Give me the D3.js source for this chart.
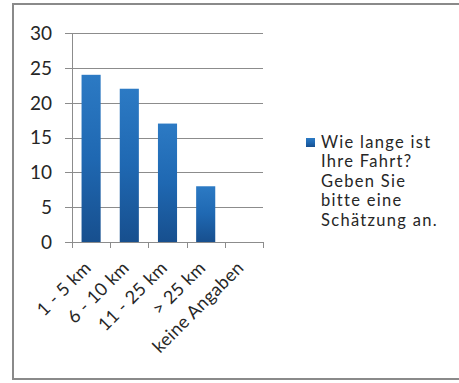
<!DOCTYPE html>
<html><head><meta charset="utf-8">
<script src="https://cdn.jsdelivr.net/npm/d3@7"></script>
<style>body{margin:0;background:#fff;}svg{display:block;}</style>
</head><body>
<svg id="c" width="459" height="383"></svg>
<script>
const categories = ["1 - 5 km", "6 - 10 km", "11 - 25 km", "> 25 km", "keine Angaben"];
const values = [24, 22, 17, 8, 0];
const yTicks = [0, 5, 10, 15, 20, 25, 30];
const legendLines = ["Wie lange ist", "Ihre Fahrt?", "Geben Sie", "bitte eine", "Schätzung an."];

(function () {
const svg = d3.select("#c");
const font = "Lato, 'Open Sans', sans-serif";
const grid = "#8c8c8c";
const txt = "#262626";

svg.append("rect").attr("x", 13).attr("y", 4).attr("width", 470).attr("height", 375)
  .attr("fill", "none").attr("stroke", "#8a8a8a").attr("stroke-width", 2);

const defs = svg.append("defs");
const g = defs.append("linearGradient").attr("id", "bg").attr("x1", 0).attr("y1", 0).attr("x2", 0).attr("y2", 1);
g.append("stop").attr("offset", "0%").attr("stop-color", "#2c7ac4");
g.append("stop").attr("offset", "50%").attr("stop-color", "#1f68b2");
g.append("stop").attr("offset", "100%").attr("stop-color", "#174f8e");

const mL = 72, mR = 263, mT = 33, mB = 242;
const x = d3.scaleBand().domain(categories).range([mL, mR]).paddingInner(0).paddingOuter(0);
const y = d3.scaleLinear().domain([0, 30]).range([mB, mT]);

svg.append("g").selectAll("line").data(yTicks).join("line")
  .attr("x1", 65).attr("x2", mR).attr("y1", d => Math.round(y(d)) + 0.5).attr("y2", d => Math.round(y(d)) + 0.5)
  .attr("stroke", grid).attr("stroke-width", 1);

svg.append("line").attr("x1", mL + 0.5).attr("x2", mL + 0.5).attr("y1", mT).attr("y2", mB)
  .attr("stroke", grid);

const tickX = categories.map(c => x(c)).concat([mR]);
svg.append("g").selectAll("line").data(tickX).join("line")
  .attr("x1", d => Math.round(d) + 0.5).attr("x2", d => Math.round(d) + 0.5)
  .attr("y1", mB).attr("y2", mB + 6).attr("stroke", grid);

svg.append("g").selectAll("text").data(yTicks).join("text")
  .attr("x", 52).attr("y", d => y(d)).attr("dy", "0.36em")
  .attr("text-anchor", "end").attr("font-family", font).attr("font-size", 19)
  .attr("fill", txt).text(d => d);

const bw = x.bandwidth() * 0.5;
svg.append("g").selectAll("rect").data(values).join("rect")
  .attr("x", (d, i) => x(categories[i]) + (x.bandwidth() - bw) / 2)
  .attr("width", bw)
  .attr("y", d => y(d)).attr("height", d => mB - y(d))
  .attr("fill", "url(#bg)");

svg.append("g").selectAll("text").data(categories).join("text")
  .attr("transform", d => `translate(${x(d) + x.bandwidth() / 2 + 1},${mB + 27}) rotate(-45)`)
  .attr("text-anchor", "end").attr("font-family", font).attr("font-size", 18)
  .attr("letter-spacing", 0.3)
  .attr("fill", txt).text(d => d);

svg.append("rect").attr("x", 306).attr("y", 138).attr("width", 9).attr("height", 9).attr("fill", "url(#bg)");
svg.append("g").selectAll("text").data(legendLines).join("text")
  .attr("x", 321).attr("y", (d, i) => 142 + i * 19.5).attr("dy", "0.36em")
  .attr("font-family", font).attr("font-size", 16.5).attr("letter-spacing", 1.3)
  .attr("fill", txt).text(d => d);
})();
</script>
</body></html>
